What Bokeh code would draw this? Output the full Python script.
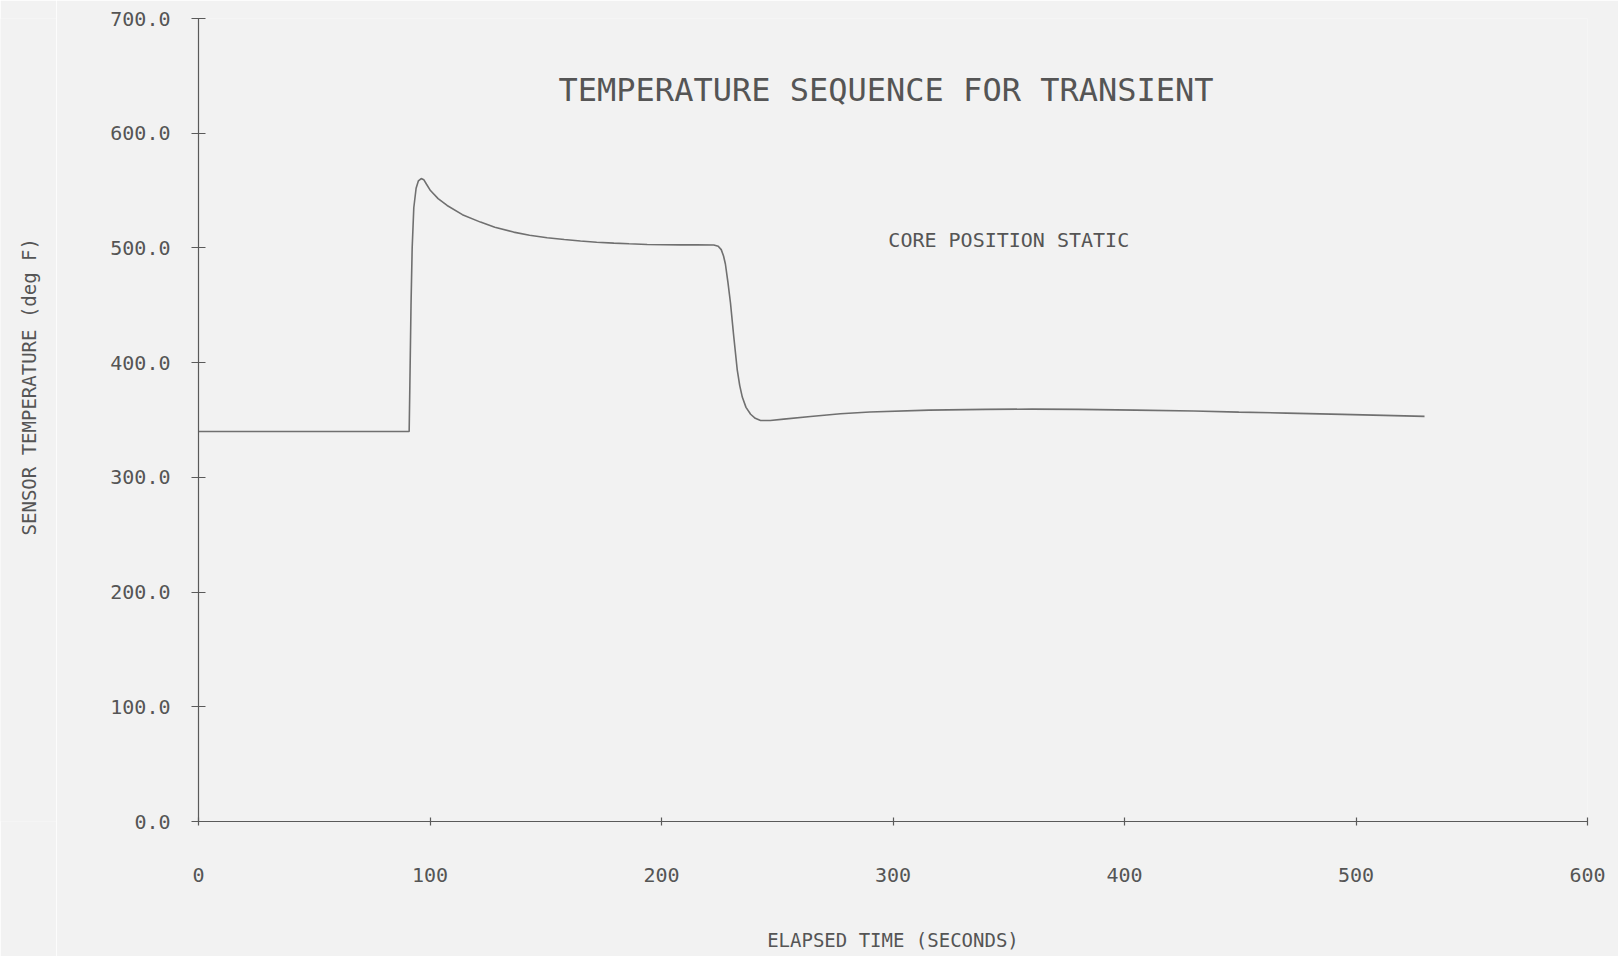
import math
from bokeh.plotting import figure
from bokeh.layouts import row
from bokeh.models import Range1d, FixedTicker, PrintfTickFormatter, Label, ColumnDataSource
from bokeh.core.properties import value
from bokeh.embed import file_html
from bokeh.resources import INLINE

# ---- data ----
time_s = [0, 91.0, 91.3, 91.8, 92.3, 93.0, 94.0, 95.0, 96.2, 97.3, 98.5, 100.2, 103.5,
          107.4, 114, 121.8, 128, 136.1, 143, 150.6, 158, 165, 172, 179.4, 186, 193.8,
          201, 208.2, 215, 222.6, 224.5, 225.8, 226.8, 227.6, 228.7, 229.8, 231.2, 232.7,
          233.8, 234.9, 236.5, 238.5, 240.5, 242.8, 247, 252.8, 264.4, 277.3, 290, 315.6,
          340, 360, 380, 404.8, 430, 449.4, 470, 494, 512, 529.6]
temp_f = [340, 340, 380, 450, 500, 535, 552, 558.5, 560.5, 559.5, 555.5, 550, 543,
          537, 529, 522.5, 518, 513.8, 511, 508.9, 507.3, 506, 505, 504.2, 503.6, 503,
          502.8, 502.7, 502.7, 502.6, 501.5, 498.5, 493, 486, 470, 452, 423, 394,
          380, 370, 361, 355, 351.5, 349.6, 349.5, 350.8, 353, 355.5, 357, 358.6,
          359.3, 359.5, 359.3, 358.6, 357.8, 356.9, 356, 354.9, 354, 353.2]

x_ticks = [0, 100, 200, 300, 400, 500, 600]
y_ticks = [0, 100, 200, 300, 400, 500, 600, 700]

title_text = "TEMPERATURE SEQUENCE FOR TRANSIENT"
note_text = "CORE POSITION STATIC"
x_label = "ELAPSED TIME (SECONDS)"
y_label = "SENSOR TEMPERATURE (deg F)"

FONT = "DejaVu Sans Mono"
TXT = "#555555"
BG = "#f2f2f2"

STRIP_W = 56  # narrow strip on the left that carries the rotated y-axis title

p = figure(width=1618 - STRIP_W, height=956, output_backend="svg", toolbar_location=None,
           x_range=Range1d(0, 600), y_range=Range1d(0, 700),
           min_border_left=198 - STRIP_W, min_border_right=31, min_border_top=18,
           min_border_bottom=135)
p.background_fill_color = BG
p.border_fill_color = BG
p.outline_line_color = None
p.grid.visible = False

src = ColumnDataSource(dict(t=time_s, v=temp_f))
p.line("t", "v", source=src, line_color="#707070", line_width=1.6)

for ax in (p.xaxis[0], p.yaxis[0]):
    ax.axis_line_color = "#5a5a5a"
    ax.axis_line_width = 1.2
    ax.major_tick_line_color = "#5a5a5a"
    ax.major_tick_line_width = 1.2
    ax.minor_tick_line_color = None
    ax.major_label_text_font = FONT
    ax.major_label_text_color = TXT
    ax.axis_label_text_font = FONT
    ax.axis_label_text_color = TXT
    ax.axis_label_text_font_style = "normal"

p.xaxis.ticker = FixedTicker(ticks=x_ticks)
p.xaxis.formatter = PrintfTickFormatter(format="%d")
p.xaxis.major_tick_in = 4
p.xaxis.major_tick_out = 4
p.xaxis.major_label_standoff = 42
p.xaxis.major_label_text_font_size = "20px"
p.xaxis.axis_label = x_label
p.xaxis.axis_label_text_font_size = "19px"
p.xaxis.axis_label_standoff = 44

p.yaxis.ticker = FixedTicker(ticks=y_ticks)
p.yaxis.formatter = PrintfTickFormatter(format="%.1f")
p.yaxis.major_tick_in = 7
p.yaxis.major_tick_out = 7
p.yaxis.major_label_standoff = 21
p.yaxis.major_label_text_font_size = "20px"

p.add_layout(Label(x=297, y=638, text=title_text, text_font=FONT, text_font_size="32px",
                   text_color=TXT, text_align="center", text_baseline="middle"))
p.add_layout(Label(x=298, y=507, text=note_text, text_font=FONT, text_font_size="20px",
                   text_color=TXT, text_align="left", text_baseline="middle"))

# left strip: same vertical scale as the chart, holds the y-axis title
s = figure(width=STRIP_W, height=956, output_backend="svg", toolbar_location=None,
           x_range=Range1d(0, STRIP_W), y_range=Range1d(0, 700),
           min_border_left=0, min_border_right=0, min_border_top=18, min_border_bottom=135)
s.background_fill_color = BG
s.border_fill_color = BG
s.outline_line_color = None
s.grid.visible = False
s.axis.visible = False
s.text(x=[28], y=[379], text=[y_label], angle=math.pi / 2, text_font=value(FONT),
       text_font_size="19px", text_color=TXT, text_align="center", text_baseline="middle")

layout = row(s, p, spacing=0)
open("out.html", "w").write(file_html(layout, INLINE))
